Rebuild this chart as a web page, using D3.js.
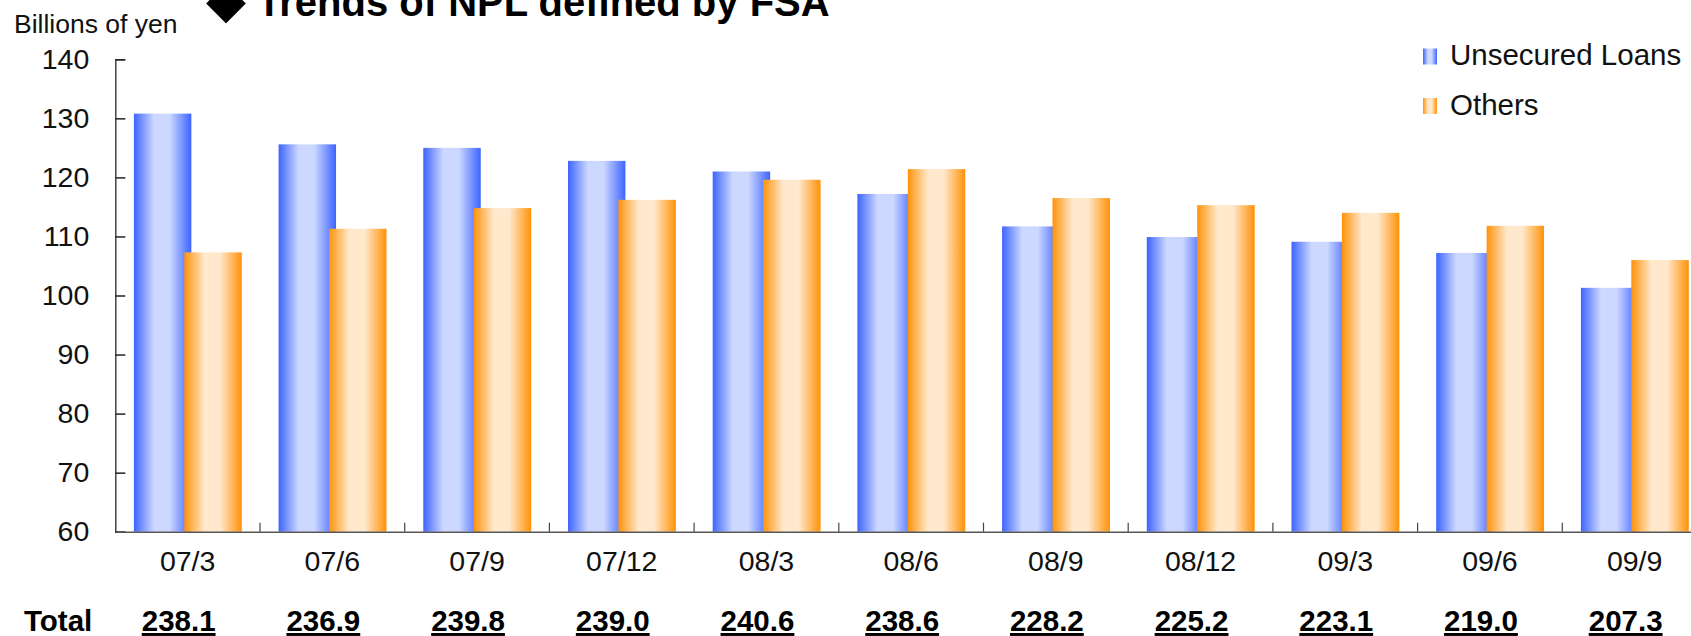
<!DOCTYPE html>
<html>
<head>
<meta charset="utf-8">
<script src="https://cdn.jsdelivr.net/npm/d3@7"></script>
<style>
  body { margin: 0; background: #fff; }
  svg { display: block; font-family: "Liberation Sans", Arial, sans-serif; }
</style>
</head>
<body>
<svg></svg>
<script>
// Data (billions of yen)
let categories = ["07/3", "07/6", "07/9", "07/12", "08/3", "08/6", "08/9", "08/12", "09/3", "09/6", "09/9"];
let unsecured = [130.8, 125.6, 125.0, 122.8, 121.0, 117.2, 111.7, 109.9, 109.1, 107.2, 101.3];
let others = [107.3, 111.3, 114.8, 116.2, 119.6, 121.4, 116.5, 115.3, 114.0, 111.8, 106.0];
let totals = ["238.1", "236.9", "239.8", "239.0", "240.6", "238.6", "228.2", "225.2", "223.1", "219.0", "207.3"];
let yTicks = [60, 70, 80, 90, 100, 110, 120, 130, 140];
let seriesNames = ["Unsecured Loans", "Others"];

let width = 1691;
let height = 636;
let plotLeft = 115.3;
let bandW = 144.7;
let plotTop = 59.3;
let plotBottom = 531.7;

let svg = d3.select("svg").attr("width", width).attr("height", height);

let xScale = d3.scaleBand()
    .domain(categories)
    .range([plotLeft, plotLeft + bandW * categories.length]) // plot runs past the right edge like the original
    .padding(0);

let yScale = d3.scaleLinear()
    .domain([60, 140])
    .range([plotBottom, plotTop]);

// cylinder-ish horizontal gradients
let defs = svg.append("defs");
let makeGrad = (id, dark, light) => {
    let g = defs.append("linearGradient").attr("id", id)
        .attr("x1", "0%").attr("x2", "100%").attr("y1", "0%").attr("y2", "0%");
    g.append("stop").attr("offset", "0%").attr("stop-color", dark);
    g.append("stop").attr("offset", "35%").attr("stop-color", light);
    g.append("stop").attr("offset", "62%").attr("stop-color", light);
    g.append("stop").attr("offset", "100%").attr("stop-color", dark);
};
makeGrad("gBlue", "#3d64ff", "#ccd8ff");
makeGrad("gOrange", "#ff9208", "#ffe8cc");

let barW = xScale.bandwidth() * 0.397;
let offBlue = xScale.bandwidth() * 0.1285;
let offOrange = xScale.bandwidth() * 0.477;

let drawSeries = (values, off, fill) => {
    svg.append("g").selectAll("rect")
        .data(values)
        .enter()
        .append("rect")
        .attr("x", (d, i) => xScale(categories[i]) + off)
        .attr("y", (d) => yScale(d))
        .attr("width", barW)
        .attr("height", (d) => yScale(60) - yScale(d))
        .attr("fill", fill);
};
drawSeries(unsecured, offBlue, "url(#gBlue)");
drawSeries(others, offOrange, "url(#gOrange)"); // orange overlaps blue a little

// y axis, ticks pointing inwards
let yAxis = d3.axisLeft(yScale).tickValues(yTicks).tickSize(-10).tickPadding(26);
let yg = svg.append("g")
    .attr("transform", "translate(" + plotLeft + ",0)")
    .call(yAxis);
yg.select(".domain").attr("stroke", "#444").attr("stroke-width", 1.5);
yg.selectAll(".tick line").attr("stroke", "#222").attr("stroke-width", 1.5);
yg.selectAll("text").attr("font-size", 28.5).attr("fill", "#111")
    .attr("font-family", "Liberation Sans, Arial, sans-serif");

// x axis, labels centred in each band
let xAxis = d3.axisBottom(xScale).tickSize(0).tickSizeOuter(0).tickPadding(19);
let xg = svg.append("g")
    .attr("transform", "translate(0," + plotBottom + ")")
    .call(xAxis);
xg.select(".domain").attr("stroke", "#555").attr("stroke-width", 1.5);
xg.selectAll("text").attr("font-size", 28.5).attr("fill", "#111")
    .attr("font-family", "Liberation Sans, Arial, sans-serif");

// category divider ticks sitting on the x axis
svg.append("g").selectAll("line")
    .data(categories.slice(1))
    .enter()
    .append("line")
    .attr("x1", (d) => xScale(d)).attr("x2", (d) => xScale(d))
    .attr("y1", plotBottom).attr("y2", plotBottom - 9)
    .attr("stroke", "#444").attr("stroke-width", 1.2);

// unit label and title
svg.append("text").attr("x", 14).attr("y", 33)
    .attr("font-size", 26.5).attr("fill", "#111").text("Billions of yen");
svg.append("text").attr("x", 206).attr("y", 17)
    .attr("font-size", 52).attr("fill", "#000")
    .attr("font-family", "DejaVu Sans, sans-serif").text("◆");
svg.append("text").attr("x", 257).attr("y", 16)
    .attr("font-size", 40).attr("font-weight", "bold").attr("fill", "#000")
    .text("Trends of NPL defined by FSA");

// legend
let legend = svg.append("g");
seriesNames.forEach((name, i) => {
    legend.append("rect")
        .attr("x", 1423).attr("y", 48.5 + i * 49.5)
        .attr("width", 14).attr("height", 16)
        .attr("fill", i === 0 ? "url(#gBlue)" : "url(#gOrange)");
    legend.append("text")
        .attr("x", 1450).attr("y", 65 + i * 49.5)
        .attr("font-size", 29.5).attr("fill", "#111")
        .text(name);
});

// totals row
svg.append("text").attr("x", 24).attr("y", 631)
    .attr("font-size", 29.5).attr("font-weight", "bold").attr("fill", "#000").text("Total");
svg.append("g").selectAll("text")
    .data(totals)
    .enter()
    .append("text")
    .attr("x", (d, i) => xScale(categories[i]) + xScale.bandwidth() / 2 - 9)
    .attr("y", 631)
    .attr("text-anchor", "middle")
    .attr("font-size", 29.5)
    .attr("font-weight", "bold")
    .attr("text-decoration", "underline")
    .attr("fill", "#000")
    .text((d) => d);
</script>
</body>
</html>
